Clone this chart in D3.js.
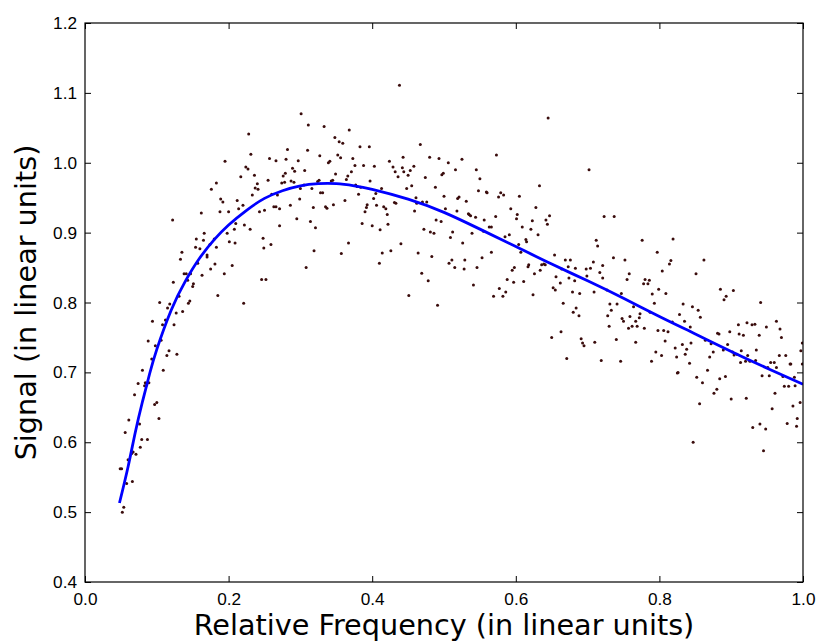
<!DOCTYPE html>
<html>
<head>
<meta charset="utf-8">
<script src="https://cdn.jsdelivr.net/npm/d3@7"></script>
<style>
  html, body { margin: 0; padding: 0; background: #fff; }
  svg { display: block; font-family: "DejaVu Sans", sans-serif; }
</style>
</head>
<body>
<div id="chart"></div>
<script>
// measured samples (relative frequency, signal)
const samples = [
  [0.228,1.041],[0.231,1.012],[0.195,1.002],[0.257,1.006],[0.266,1.003],[0.224,0.994],[0.227,0.991],[0.217,0.980],[0.236,0.982],[0.255,0.975],
  [0.183,0.971],[0.176,0.962],[0.240,0.970],[0.237,0.964],[0.241,0.962],[0.189,0.948],[0.192,0.944],[0.212,0.946],[0.220,0.939],[0.233,0.954],
  [0.268,0.954],[0.260,0.955],[0.162,0.928],[0.188,0.930],[0.200,0.930],[0.214,0.934],[0.243,0.930],[0.250,0.932],[0.263,0.937],[0.266,0.937],
  [0.271,0.934],[0.122,0.918],[0.210,0.913],[0.222,0.911],[0.230,0.905],[0.271,0.910],[0.198,0.899],[0.208,0.905],[0.166,0.899],[0.155,0.891],
  [0.165,0.889],[0.180,0.891],[0.201,0.887],[0.209,0.885],[0.248,0.892],[0.249,0.878],[0.259,0.883],[0.154,0.879],[0.160,0.877],[0.174,0.883],
  [0.183,0.879],[0.135,0.872],[0.170,0.868],[0.170,0.865],[0.133,0.862],[0.157,0.856],[0.181,0.855],[0.175,0.848],[0.205,0.853],[0.138,0.841],
  [0.141,0.841],[0.147,0.841],[0.163,0.839],[0.194,0.841],[0.246,0.833],[0.252,0.833],[0.123,0.829],[0.143,0.832],[0.151,0.827],[0.150,0.823],
  [0.185,0.810],[0.131,0.809],[0.146,0.802],[0.144,0.799],[0.221,0.799],[0.104,0.800],[0.118,0.798],[0.115,0.792],[0.127,0.785],[0.136,0.787],
  [0.094,0.773],[0.112,0.775],[0.108,0.768],[0.124,0.768],[0.088,0.745],[0.106,0.746],[0.098,0.738],[0.117,0.731],[0.114,0.724],[0.128,0.726],
  [0.093,0.719],[0.080,0.703],[0.109,0.703],[0.074,0.684],[0.084,0.685],[0.089,0.685],[0.086,0.682],[0.083,0.681],[0.069,0.668],[0.097,0.654],
  [0.100,0.657],[0.103,0.634],[0.061,0.632],[0.076,0.626],[0.056,0.614],[0.079,0.604],[0.087,0.604],[0.077,0.593],[0.067,0.586],[0.065,0.584],
  [0.071,0.583],[0.060,0.575],[0.049,0.562],[0.051,0.562],[0.066,0.544],[0.058,0.541],[0.054,0.507],[0.052,0.500],
  [0.438,1.111],[0.301,1.070],[0.311,1.054],[0.333,1.052],[0.368,1.047],[0.348,1.036],[0.354,1.030],[0.359,1.028],[0.282,1.019],[0.310,1.018],
  [0.383,1.023],[0.396,1.023],[0.467,1.026],[0.280,1.005],[0.297,1.003],[0.327,1.010],[0.339,1.000],[0.341,1.002],[0.352,1.011],[0.356,1.007],
  [0.373,1.006],[0.424,1.002],[0.443,1.008],[0.480,1.008],[0.493,1.006],[0.506,1.000],[0.516,0.990],[0.279,0.985],[0.276,0.981],[0.289,0.992],
  [0.292,0.988],[0.306,0.989],[0.349,0.984],[0.371,0.987],[0.376,0.996],[0.388,0.996],[0.403,0.995],[0.429,0.994],[0.432,0.987],[0.436,0.980],
  [0.442,0.993],[0.444,0.987],[0.450,0.982],[0.453,0.989],[0.458,0.995],[0.474,0.979],[0.497,0.983],[0.499,0.985],[0.274,0.971],[0.278,0.972],
  [0.287,0.974],[0.291,0.972],[0.305,0.968],[0.300,0.963],[0.316,0.963],[0.324,0.973],[0.326,0.975],[0.343,0.974],[0.345,0.975],[0.364,0.976],
  [0.366,0.981],[0.377,0.968],[0.379,0.966],[0.384,0.965],[0.397,0.974],[0.413,0.963],[0.448,0.963],[0.455,0.967],[0.488,0.965],[0.328,0.957],
  [0.331,0.957],[0.299,0.948],[0.381,0.955],[0.362,0.946],[0.402,0.949],[0.405,0.956],[0.461,0.950],[0.462,0.942],[0.470,0.944],[0.476,0.944],
  [0.431,0.943],[0.433,0.942],[0.500,0.952],[0.519,0.949],[0.521,0.951],[0.286,0.939],[0.318,0.936],[0.335,0.937],[0.337,0.935],[0.346,0.940],
  [0.393,0.940],[0.392,0.936],[0.390,0.930],[0.406,0.939],[0.416,0.937],[0.419,0.934],[0.421,0.926],[0.459,0.931],[0.502,0.934],[0.518,0.931],
  [0.295,0.920],[0.314,0.916],[0.321,0.907],[0.386,0.913],[0.400,0.910],[0.411,0.904],[0.422,0.912],[0.472,0.905],[0.481,0.901],[0.486,0.899],
  [0.489,0.918],[0.496,0.916],[0.512,0.901],[0.509,0.893],[0.367,0.885],[0.440,0.884],[0.319,0.874],[0.357,0.870],[0.414,0.871],[0.426,0.874],
  [0.464,0.871],[0.483,0.866],[0.511,0.861],[0.507,0.856],[0.308,0.850],[0.410,0.856],[0.515,0.850],[0.469,0.842],[0.478,0.831],[0.451,0.810],
  [0.491,0.796],
  [0.645,1.064],[0.573,1.011],[0.525,1.005],[0.702,0.990],[0.545,0.990],[0.550,0.977],[0.633,0.967],[0.548,0.960],[0.559,0.958],[0.560,0.957],
  [0.579,0.957],[0.583,0.954],[0.576,0.951],[0.605,0.952],[0.531,0.945],[0.593,0.934],[0.628,0.936],[0.535,0.926],[0.534,0.927],[0.537,0.924],
  [0.544,0.922],[0.556,0.918],[0.572,0.923],[0.602,0.926],[0.601,0.920],[0.623,0.917],[0.642,0.918],[0.647,0.924],[0.644,0.912],[0.723,0.923],
  [0.737,0.923],[0.563,0.908],[0.566,0.908],[0.609,0.908],[0.621,0.905],[0.539,0.899],[0.555,0.902],[0.585,0.894],[0.591,0.897],[0.631,0.897],
  [0.526,0.885],[0.614,0.890],[0.615,0.887],[0.604,0.883],[0.712,0.889],[0.714,0.881],[0.607,0.872],[0.566,0.872],[0.553,0.864],[0.529,0.861],
  [0.654,0.868],[0.669,0.861],[0.676,0.861],[0.708,0.858],[0.721,0.853],[0.736,0.864],[0.752,0.861],[0.546,0.850],[0.528,0.848],[0.598,0.850],
  [0.595,0.846],[0.618,0.854],[0.617,0.851],[0.636,0.854],[0.639,0.855],[0.641,0.854],[0.634,0.846],[0.626,0.841],[0.656,0.837],[0.664,0.848],
  [0.673,0.851],[0.683,0.849],[0.674,0.835],[0.682,0.831],[0.698,0.848],[0.699,0.838],[0.704,0.849],[0.717,0.843],[0.721,0.835],[0.758,0.841],
  [0.755,0.833],[0.588,0.833],[0.597,0.829],[0.611,0.830],[0.662,0.828],[0.541,0.825],[0.577,0.820],[0.586,0.815],[0.582,0.809],[0.569,0.809],
  [0.624,0.811],[0.652,0.821],[0.655,0.818],[0.679,0.815],[0.689,0.813],[0.709,0.815],[0.727,0.818],[0.747,0.813],[0.666,0.799],[0.684,0.792],
  [0.680,0.786],[0.688,0.781],[0.731,0.798],[0.741,0.798],[0.733,0.789],[0.764,0.794],[0.728,0.781],[0.748,0.777],[0.750,0.773],[0.759,0.780],
  [0.767,0.773],[0.772,0.778],[0.757,0.763],[0.762,0.766],[0.769,0.766],[0.730,0.766],[0.663,0.758],[0.650,0.750],[0.691,0.748],[0.693,0.742],
  [0.695,0.738],[0.710,0.743],[0.740,0.747],[0.767,0.743],[0.671,0.720],[0.719,0.717],[0.746,0.716],
  [0.776,0.889],[0.819,0.891],[0.797,0.872],[0.862,0.861],[0.816,0.860],[0.814,0.855],[0.804,0.845],[0.851,0.841],[0.780,0.833],[0.786,0.832],
  [0.778,0.827],[0.784,0.827],[0.885,0.819],[0.903,0.817],[0.893,0.809],[0.890,0.804],[0.790,0.812],[0.799,0.819],[0.809,0.813],[0.941,0.800],
  [0.793,0.799],[0.833,0.798],[0.846,0.794],[0.854,0.789],[0.857,0.779],[0.828,0.783],[0.773,0.784],[0.787,0.786],[0.818,0.772],[0.835,0.773],
  [0.843,0.765],[0.779,0.763],[0.798,0.760],[0.806,0.760],[0.812,0.758],[0.910,0.768],[0.922,0.771],[0.929,0.768],[0.933,0.769],[0.963,0.773],
  [0.949,0.765],[0.968,0.762],[0.881,0.756],[0.883,0.755],[0.898,0.758],[0.911,0.755],[0.917,0.753],[0.939,0.753],[0.970,0.750],[0.808,0.745],
  [0.832,0.740],[0.844,0.742],[0.864,0.746],[0.872,0.741],[0.895,0.740],[0.822,0.735],[0.838,0.733],[0.875,0.729],[0.889,0.732],[0.902,0.729],
  [0.914,0.731],[0.935,0.732],[0.795,0.729],[0.803,0.724],[0.824,0.722],[0.836,0.726],[0.870,0.722],[0.904,0.725],[0.908,0.726],[0.923,0.724],
  [0.913,0.714],[0.920,0.716],[0.926,0.716],[0.934,0.717],[0.967,0.724],[0.976,0.724],[0.999,0.742],[0.997,0.731],[0.842,0.713],[0.789,0.716],
  [0.826,0.700],[0.825,0.699],[0.867,0.703],[0.955,0.714],[0.960,0.714],[0.951,0.707],[0.963,0.707],[0.943,0.695],[0.953,0.695],[0.982,0.712],
  [0.983,0.712],[0.972,0.694],[0.988,0.693],[0.852,0.693],[0.860,0.685],[0.884,0.691],[0.892,0.694],[0.880,0.676],[0.876,0.670],[0.974,0.680],
  [0.980,0.680],[0.989,0.681],[0.999,0.712],[0.961,0.670],[0.900,0.662],[0.921,0.663],[0.856,0.655],[0.957,0.648],[0.986,0.652],[0.996,0.657],
  [0.930,0.621],[0.940,0.626],[0.948,0.619],[0.978,0.627],[0.992,0.634],[0.991,0.623],[0.847,0.600],[0.945,0.588]
];

// fitted curve
const fitX = [0.048, 0.06, 0.07, 0.08, 0.09, 0.10, 0.12, 0.14, 0.16, 0.18, 0.20, 0.225, 0.25, 0.275, 0.30, 0.325,
  0.35, 0.375, 0.40, 0.45, 0.50, 0.55, 0.60, 0.65, 0.70, 0.75, 0.80, 0.85, 0.90, 0.95, 1.00];
const fitY = [0.513, 0.565, 0.614, 0.658, 0.698, 0.733, 0.789, 0.831, 0.864, 0.890, 0.911, 0.932, 0.949, 0.960, 0.967, 0.970,
  0.970, 0.967, 0.962, 0.948, 0.929, 0.905, 0.880, 0.855, 0.831, 0.806, 0.780, 0.755, 0.730, 0.706, 0.683];

const xTicks = [0.0, 0.2, 0.4, 0.6, 0.8, 1.0];
const yTicks = [0.4, 0.5, 0.6, 0.7, 0.8, 0.9, 1.0, 1.1, 1.2];

const width = 820, height = 641;
const margin = { top: 23, right: 17, bottom: 59, left: 85 };
const iw = width - margin.left - margin.right;
const ih = height - margin.top - margin.bottom;

const svg = d3.select("#chart").append("svg")
    .attr("width", width)
    .attr("height", height);

const x = d3.scaleLinear().domain([0, 1]).range([0, iw]);
const y = d3.scaleLinear().domain([0.4, 1.2]).range([ih, 0]);

const g = svg.append("g").attr("transform", `translate(${margin.left},${margin.top})`);

g.append("clipPath").attr("id", "clip")
    .append("rect").attr("width", iw).attr("height", ih);

const plot = g.append("g").attr("clip-path", "url(#clip)");

plot.append("g")
    .selectAll("circle")
    .data(samples)
    .join("circle")
    .attr("cx", d => x(d[0]))
    .attr("cy", d => y(d[1]))
    .attr("r", 1.5)
    .attr("fill", "#3a0c0c");

const fit = d3.zip(fitX, fitY);
plot.append("path")
    .datum(fit)
    .attr("fill", "none")
    .attr("stroke", "#0000ff")
    .attr("stroke-width", 2.8)
    .attr("d", d3.line().x(d => x(d[0])).y(d => y(d[1])).curve(d3.curveNatural));

// classic matplotlib look: inward ticks on all four sides
const fmt = d3.format(".1f");
const tickLen = 6;

const axisStyle = sel => {
    sel.select(".domain").remove();
    sel.selectAll(".tick line").attr("stroke", "#000").attr("stroke-width", 1);
    sel.selectAll(".tick text").attr("fill", "#000").style("font-size", "17.2px");
};

g.append("g")
    .attr("transform", `translate(0,${ih})`)
    .call(d3.axisBottom(x).tickValues(xTicks).tickFormat(fmt).tickSizeInner(-tickLen).tickSizeOuter(0).tickPadding(11))
    .call(axisStyle);

g.append("g")
    .call(d3.axisTop(x).tickValues(xTicks).tickFormat("").tickSizeInner(-tickLen).tickSizeOuter(0))
    .call(axisStyle);

g.append("g")
    .call(d3.axisLeft(y).tickValues(yTicks).tickFormat(fmt).tickSizeInner(-tickLen).tickSizeOuter(0).tickPadding(8))
    .call(axisStyle);

g.append("g")
    .attr("transform", `translate(${iw},0)`)
    .call(d3.axisRight(y).tickValues(yTicks).tickFormat("").tickSizeInner(-tickLen).tickSizeOuter(0))
    .call(axisStyle);

g.append("rect")
    .attr("width", iw)
    .attr("height", ih)
    .attr("fill", "none")
    .attr("stroke", "#000")
    .attr("stroke-width", 1.2);

svg.append("text")
    .attr("x", margin.left + iw / 2)
    .attr("y", 635)
    .attr("text-anchor", "middle")
    .style("font-size", "28.7px")
    .text("Relative Frequency (in linear units)");

svg.append("text")
    .attr("transform", `translate(36,${margin.top + ih / 2}) rotate(-90)`)
    .attr("text-anchor", "middle")
    .style("font-size", "28.7px")
    .text("Signal (in linear units)");
</script>
</body>
</html>
